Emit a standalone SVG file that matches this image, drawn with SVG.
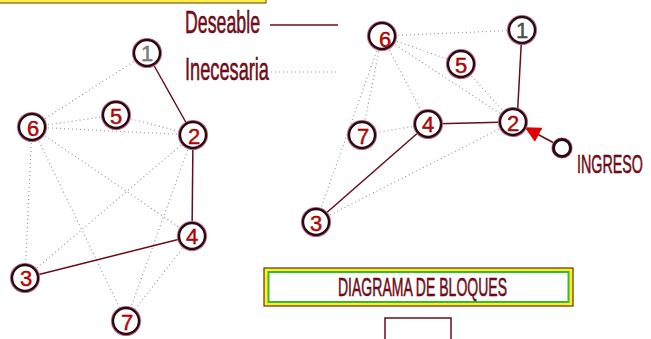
<svg xmlns="http://www.w3.org/2000/svg" width="651" height="339" viewBox="0 0 651 339">
<defs>
<style>
.solid{stroke:#6a0c18;stroke-width:1.5;fill:none}
.dot{stroke:#9a9a9a;stroke-width:1.2;stroke-dasharray:1 3;fill:none}
.halo{fill:none;stroke:#c87090;stroke-width:1.2}
.ring{fill:#fff;stroke:#2a0a12;stroke-width:2.4}
.num{font-family:"Liberation Sans",Arial,sans-serif;font-size:22px;fill:#e00000;stroke:#400;stroke-width:0.4;text-anchor:middle}
.lbl{font-family:"Liberation Sans",Arial,sans-serif;fill:#8a0a1a;stroke:#300;stroke-width:0.5}
</style>
<marker id="arr" viewBox="0 0 10 10" refX="9" refY="5" markerWidth="16" markerHeight="16" markerUnits="userSpaceOnUse" orient="auto">
<path d="M0,0 L10,5 L0,10 z" fill="#e00000"/>
</marker>
</defs>
<rect width="651" height="339" fill="#fff"/>
<!-- top yellow bar -->
<rect x="-2" y="-4" width="268" height="7" fill="#ffee44" stroke="#6a3a10" stroke-width="1"/>

<!-- legend -->
<g id="legend">
<text class="lbl" x="185" y="33" font-size="32" textLength="75" lengthAdjust="spacingAndGlyphs">Deseable</text>
<text class="lbl" x="185" y="80" font-size="32" textLength="84" lengthAdjust="spacingAndGlyphs">Inecesaria</text>
<line class="solid" x1="270" y1="25" x2="338" y2="25"/>
<line class="dot" x1="271" y1="72" x2="338" y2="72"/>
</g>

<g id="connectors">
<!-- left graph -->
<line class="dot" x1="147" y1="53" x2="32" y2="127"/>
<line class="dot" x1="32" y1="127" x2="116" y2="115"/>
<line class="dot" x1="116" y1="115" x2="193" y2="135"/>
<line class="dot" x1="32" y1="127" x2="193" y2="135"/>
<line class="dot" x1="32" y1="127" x2="25" y2="278"/>
<line class="dot" x1="32" y1="127" x2="126" y2="321"/>
<line class="dot" x1="32" y1="127" x2="192" y2="236"/>
<line class="dot" x1="193" y1="135" x2="25" y2="278"/>
<line class="dot" x1="193" y1="135" x2="126" y2="321"/>
<line class="dot" x1="192" y1="236" x2="126" y2="321"/>
<line class="solid" x1="147" y1="53" x2="193" y2="135"/>
<line class="solid" x1="193" y1="135" x2="192" y2="236"/>
<line class="solid" x1="192" y1="236" x2="25" y2="278"/>
<!-- right graph -->
<line class="dot" x1="382" y1="36" x2="522" y2="30"/>
<line class="dot" x1="382" y1="36" x2="461" y2="64"/>
<line class="dot" x1="461" y1="64" x2="513" y2="122"/>
<line class="dot" x1="382" y1="36" x2="513" y2="122"/>
<line class="dot" x1="382" y1="36" x2="428" y2="124"/>
<line class="dot" x1="382" y1="36" x2="362" y2="135"/>
<line class="dot" x1="382" y1="36" x2="316" y2="222"/>
<line class="dot" x1="428" y1="124" x2="362" y2="135"/>
<line class="dot" x1="513" y1="122" x2="316" y2="222"/>
<line class="solid" x1="522" y1="30" x2="517" y2="122"/>
<line class="solid" x1="513" y1="122" x2="428" y2="124"/>
<line class="solid" x1="428" y1="124" x2="316" y2="222"/>
<line class="solid" x1="554" y1="143" x2="526" y2="128" marker-end="url(#arr)"/>
</g>

<!-- left graph nodes -->
<g id="L1"><circle class="halo" cx="147" cy="53" r="14.5"/><circle class="ring" cx="147" cy="53" r="13"/><text class="num" x="147" y="61" style="fill:#888;stroke:#555">1</text></g>
<g id="L2"><circle class="halo" cx="193" cy="135" r="14.5"/><circle class="ring" cx="193" cy="135" r="13"/><text class="num" x="194" y="144">2</text></g>
<g id="L3"><circle class="halo" cx="25" cy="278" r="14.5"/><circle class="ring" cx="25" cy="278" r="13"/><text class="num" x="26" y="286">3</text></g>
<g id="L4"><circle class="halo" cx="192" cy="236" r="14.5"/><circle class="ring" cx="192" cy="236" r="13"/><text class="num" x="192" y="244">4</text></g>
<g id="L5"><circle class="halo" cx="116" cy="115" r="14.5"/><circle class="ring" cx="116" cy="115" r="13"/><text class="num" x="116" y="124">5</text></g>
<g id="L6"><circle class="halo" cx="32" cy="127" r="14.5"/><circle class="ring" cx="32" cy="127" r="13"/><text class="num" x="33" y="136">6</text></g>
<g id="L7"><circle class="halo" cx="126" cy="321" r="14.5"/><circle class="ring" cx="126" cy="321" r="13"/><text class="num" x="127" y="330">7</text></g>

<!-- right graph nodes -->
<g id="R1"><circle class="halo" cx="522" cy="30" r="14.5"/><circle class="ring" cx="522" cy="30" r="13"/><text class="num" x="522" y="38" style="fill:#555;stroke:#333">1</text></g>
<g id="R2"><circle class="halo" cx="513" cy="122" r="14.5"/><circle class="ring" cx="513" cy="122" r="13"/><text class="num" x="513" y="131">2</text></g>
<g id="R3"><circle class="halo" cx="316" cy="222" r="14.5"/><circle class="ring" cx="316" cy="222" r="13"/><text class="num" x="316" y="231">3</text></g>
<g id="R4"><circle class="halo" cx="428" cy="124" r="14.5"/><circle class="ring" cx="428" cy="124" r="13"/><text class="num" x="428" y="132">4</text></g>
<g id="R5"><circle class="halo" cx="461" cy="64" r="14.5"/><circle class="ring" cx="461" cy="64" r="13"/><text class="num" x="461" y="73">5</text></g>
<g id="R6"><circle class="halo" cx="382" cy="36" r="14.5"/><circle class="ring" cx="382" cy="36" r="13"/><text class="num" x="385" y="47">6</text></g>
<g id="R7"><circle class="halo" cx="362" cy="135" r="14.5"/><circle class="ring" cx="362" cy="135" r="13"/><text class="num" x="363" y="144">7</text></g>
<g id="RIN"><circle class="halo" cx="562" cy="148" r="10"/><circle class="ring" cx="562" cy="148" r="8.5" style="stroke-width:3"/></g>

<g id="ingreso">
<text class="lbl" transform="translate(577,173) scale(0.55,1)" x="0" y="0" font-size="26">INGRESO</text>
</g>

<g id="title">
<rect x="264" y="268" width="309" height="38" fill="#ffee22" stroke="#6a2a10" stroke-width="1.2"/>
<rect x="268.5" y="272" width="300" height="30" fill="#fff" stroke="#33bb33" stroke-width="2"/>
<text class="lbl" x="338" y="296" font-size="25" textLength="169" lengthAdjust="spacingAndGlyphs">DIAGRAMA DE BLOQUES</text>
</g>

<g id="block">
<rect x="385" y="318" width="66" height="30" fill="#fff" stroke="#6a0c18" stroke-width="1.5"/>
</g>
</svg>
